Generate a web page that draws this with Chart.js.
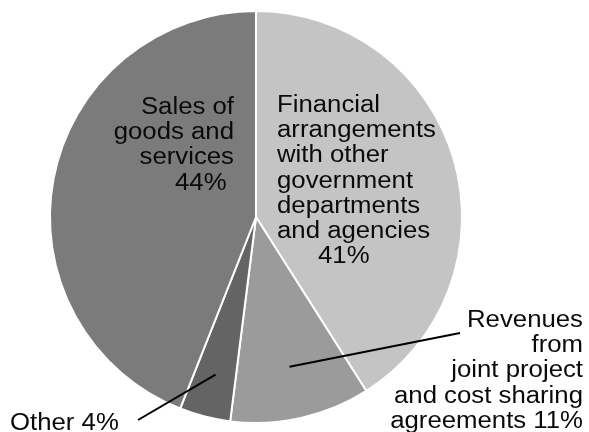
<!DOCTYPE html>
<html>
<head>
<meta charset="utf-8">
<script src="https://cdn.jsdelivr.net/npm/chart.js@4"></script>
<style>
  html, body { margin: 0; padding: 0; background: #fff; }
  #wrap { width: 589px; height: 432px; }
</style>
</head>
<body>
<div id="wrap"><canvas id="pie"></canvas></div>
<script>
// revenue split, clockwise from 12 o'clock
const labels = [
  'Financial arrangements with other government departments and agencies',
  'Revenues from joint project and cost sharing agreements',
  'Other',
  'Sales of goods and services'
];
const shares = [41, 11, 4, 44];
const labelLines = [
  ['Financial', 'arrangements', 'with other', 'government', 'departments', 'and agencies'],
  ['Revenues', 'from', 'joint project', 'and cost sharing', 'agreements'],
  ['Other'],
  ['Sales of', 'goods and', 'services']
];
const sliceColors = ['#c4c4c4', '#9b9b9b', '#646464', '#7b7b7b'];

// where each text block sits; pct 'line' = percent on its own line
const textLayout = [
  { x: 277, y: 112, align: 'left',  pct: 'line', pctX: 318, pctAlign: 'left' },
  { x: 583, y: 327, align: 'right', pct: 'inline', leader: { frac: 0.745, to: [460, 333] } },
  { x: 10,  y: 430, align: 'left',  pct: 'inline', leader: { frac: 0.79, to: [138, 420] } },
  { x: 234, y: 114, align: 'right', pct: 'line', pctX: 175, pctAlign: 'left' }
];
const LINE_H = 25.2;
const STRETCH = 1.12;

function drawText(ctx, txt, x, y, align) {
  ctx.save();
  ctx.translate(x, y);
  ctx.scale(STRETCH, 1);
  ctx.textAlign = align;
  ctx.fillText(txt, 0, 0);
  ctx.restore();
}

const sliceLabels = {
  id: 'sliceLabels',
  afterDatasetsDraw(chart) {
    const ctx = chart.ctx;
    const arcs = chart.getDatasetMeta(0).data;
    ctx.save();

    // leader lines from inside the slice out to the text
    ctx.strokeStyle = '#000';
    ctx.lineWidth = 2;
    textLayout.forEach((t, i) => {
      if (!t.leader) return;
      const a = arcs[i];
      const mid = (a.startAngle + a.endAngle) / 2;
      const r = a.outerRadius * t.leader.frac;
      ctx.beginPath();
      ctx.moveTo(a.x + Math.cos(mid) * r, a.y + Math.sin(mid) * r);
      ctx.lineTo(t.leader.to[0], t.leader.to[1]);
      ctx.stroke();
    });

    ctx.fillStyle = '#0a0a0a';
    ctx.font = '23px "Liberation Sans", Arial, sans-serif';
    ctx.textBaseline = 'alphabetic';
    textLayout.forEach((t, i) => {
      const pct = shares[i] + '%';
      const lines = labelLines[i].slice();
      if (t.pct === 'inline') lines[lines.length - 1] += ' ' + pct;
      lines.forEach((ln, k) => drawText(ctx, ln, t.x, t.y + k * LINE_H, t.align));
      if (t.pct === 'line') drawText(ctx, pct, t.pctX, t.y + lines.length * LINE_H, t.pctAlign);
    });
    ctx.restore();
  }
};

new Chart(document.getElementById('pie'), {
  type: 'pie',
  data: {
    labels: labels,
    datasets: [{
      data: shares,
      backgroundColor: sliceColors,
      borderColor: '#fff',
      borderWidth: 2
    }]
  },
  options: {
    responsive: true, maintainAspectRatio: false, animation: false,
    layout: { padding: { left: 49, right: 126, top: 10, bottom: 8 } },
    plugins: { legend: { display: false }, tooltip: { enabled: false } }
  },
  plugins: [sliceLabels]
});
</script>
</body>
</html>
